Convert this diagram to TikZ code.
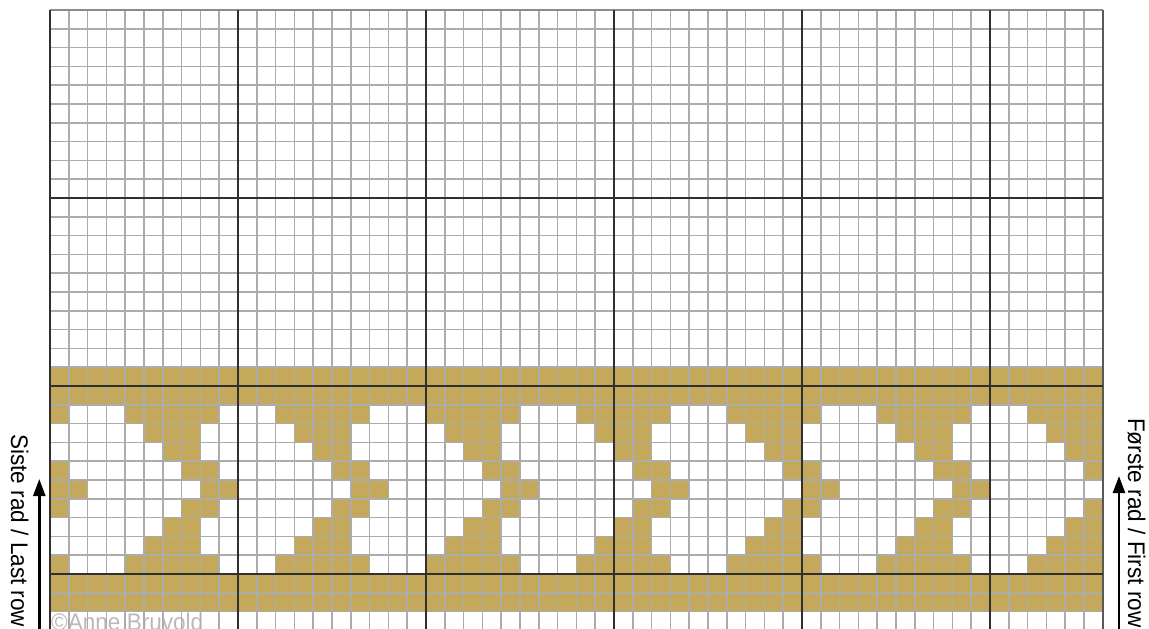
\documentclass[tikz,border=0pt]{standalone}
\usepackage{fontspec}
\setmainfont{Liberation Sans}
\usetikzlibrary{arrows.meta}
\definecolor{gold}{RGB}{196,168,92}
\definecolor{thingrey}{RGB}{172,172,172}
\definecolor{thickgrey}{RGB}{48,48,48}
\definecolor{topgrey}{RGB}{140,140,140}
\definecolor{copygrey}{RGB}{185,185,185}
\begin{document}
\begin{tikzpicture}[x=1pt,y=-1pt,
  lbl/.style={inner sep=0pt, font=\fontsize{24}{24}\selectfont},
  thinline/.style={draw=thingrey, line width=1.5pt},
  thickline/.style={draw=thickgrey, line width=1.5pt},
  uparrow/.style={line width=2.5pt, -{Triangle[length=17pt,width=12pt]}}]
\def\cs{18.8}
\useasboundingbox (0,0) rectangle (1149,629);
\begin{scope}
\clip (0,0) rectangle (1149,629);
% full gold rows
\foreach \r in {19,20,30,31}
  \fill[gold] (50,{10+\r*\cs}) rectangle (1102.8,{10+(\r+1)*\cs});
% patterned rows (period 8 columns)
\foreach \r/\s in {21/{0,4,5,6,7},22/{5,6,7},23/{6,7},24/{7,0},25/{0,1},26/{7,0},27/{6,7},28/{5,6,7},29/{0,4,5,6,7}}{
  \foreach \b in {0,8,...,48}{
    \foreach \m in \s {
      \fill[gold] ({50+(\b+\m)*\cs},{10+\r*\cs}) rectangle +(\cs,\cs);
    }}}
% copyright text
\node[lbl, anchor=base west, text=copygrey] (copy) at (51,630) {\scalebox{0.94}[1]{©Anne Bruvold}};
% thin grid
\foreach \i in {1,...,55}
  \draw[thinline] ({50+\i*\cs},10) -- ({50+\i*\cs},640);
\foreach \j in {1,...,33}
  \draw[thinline] (50,{10+\j*\cs}) -- (1102.8,{10+\j*\cs});
% top border
\draw[draw=topgrey, line width=1.6pt] (50,10) -- (1102.8,10);
% thick grid
\foreach \i in {0,10,...,50}
  \draw[thickline] ({50+\i*\cs},10) -- ({50+\i*\cs},640);
\draw[draw=thickgrey!80, line width=1.8pt] (1102.8,10) -- (1102.8,640);
\foreach \j in {10,20,30}
  \draw[thickline] (50,{10+\j*\cs}) -- (1102.8,{10+\j*\cs});
% labels
\node[lbl, rotate=-90, anchor=base west] (lastrow) at (11,434) {\scalebox{0.94}[1]{Siste rad / Last row}};
\node[lbl, rotate=-90, anchor=base west] (firstrow) at (1128,418) {\scalebox{0.94}[1]{Første rad / First row}};
% arrows
\coordinate (la0) at (39.3,640);
\coordinate (la1) at (39.3,479);
\coordinate (ra0) at (1119,640);
\coordinate (ra1) at (1119,476);
\draw[uparrow] (la0) -- (la1);
\draw[uparrow] (ra0) -- (ra1);
\end{scope}
\end{tikzpicture}
\end{document}
